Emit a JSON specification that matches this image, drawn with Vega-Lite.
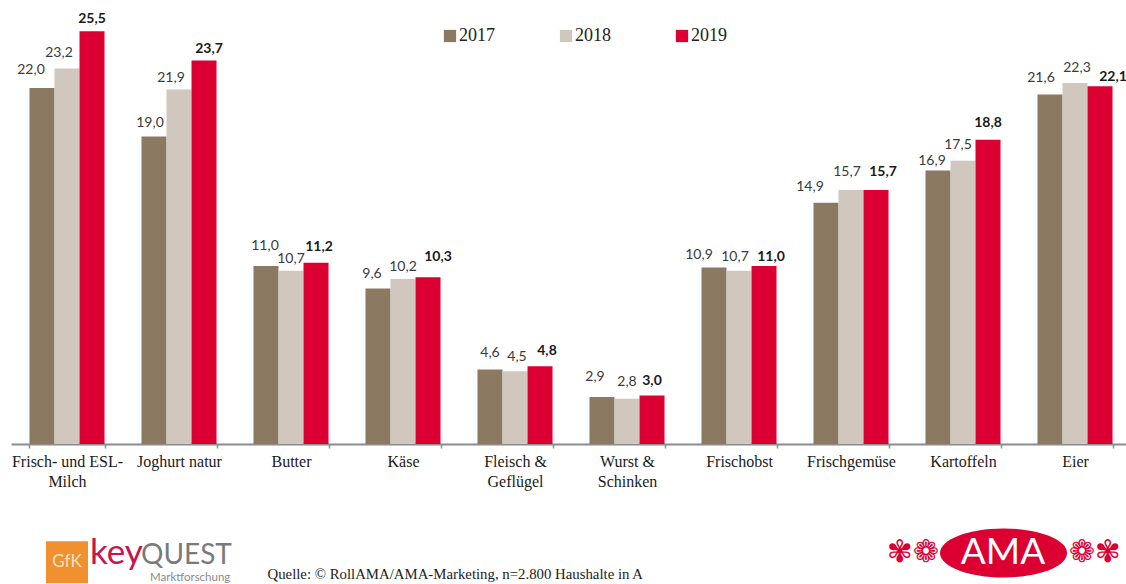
{
"$schema":"https://vega.github.io/schema/vega-lite/v6.json",
"width":1120,"height":437,
"autosize":{"type":"none"},
"padding":{"left":11,"top":7,"right":0,"bottom":140},
"background":"white",
"config":{"view":{"stroke":null},
"text":{"baseline":"middle","font":"Lato","fontSize":14,"color":"#3a3a3a"}},
"datasets":{
"werte":[
{"Kategorie":"Frisch- und ESL-Milch","Jahr":"2017","Wert":22.0,"Text":"22,0"},
{"Kategorie":"Frisch- und ESL-Milch","Jahr":"2018","Wert":23.2,"Text":"23,2"},
{"Kategorie":"Frisch- und ESL-Milch","Jahr":"2019","Wert":25.5,"Text":"25,5"},
{"Kategorie":"Joghurt natur","Jahr":"2017","Wert":19.0,"Text":"19,0"},
{"Kategorie":"Joghurt natur","Jahr":"2018","Wert":21.9,"Text":"21,9"},
{"Kategorie":"Joghurt natur","Jahr":"2019","Wert":23.7,"Text":"23,7"},
{"Kategorie":"Butter","Jahr":"2017","Wert":11.0,"Text":"11,0"},
{"Kategorie":"Butter","Jahr":"2018","Wert":10.7,"Text":"10,7"},
{"Kategorie":"Butter","Jahr":"2019","Wert":11.2,"Text":"11,2"},
{"Kategorie":"Käse","Jahr":"2017","Wert":9.6,"Text":"9,6"},
{"Kategorie":"Käse","Jahr":"2018","Wert":10.2,"Text":"10,2"},
{"Kategorie":"Käse","Jahr":"2019","Wert":10.3,"Text":"10,3"},
{"Kategorie":"Fleisch & Geflügel","Jahr":"2017","Wert":4.6,"Text":"4,6"},
{"Kategorie":"Fleisch & Geflügel","Jahr":"2018","Wert":4.5,"Text":"4,5"},
{"Kategorie":"Fleisch & Geflügel","Jahr":"2019","Wert":4.8,"Text":"4,8"},
{"Kategorie":"Wurst & Schinken","Jahr":"2017","Wert":2.9,"Text":"2,9"},
{"Kategorie":"Wurst & Schinken","Jahr":"2018","Wert":2.8,"Text":"2,8"},
{"Kategorie":"Wurst & Schinken","Jahr":"2019","Wert":3.0,"Text":"3,0"},
{"Kategorie":"Frischobst","Jahr":"2017","Wert":10.9,"Text":"10,9"},
{"Kategorie":"Frischobst","Jahr":"2018","Wert":10.7,"Text":"10,7"},
{"Kategorie":"Frischobst","Jahr":"2019","Wert":11.0,"Text":"11,0"},
{"Kategorie":"Frischgemüse","Jahr":"2017","Wert":14.9,"Text":"14,9"},
{"Kategorie":"Frischgemüse","Jahr":"2018","Wert":15.7,"Text":"15,7"},
{"Kategorie":"Frischgemüse","Jahr":"2019","Wert":15.7,"Text":"15,7"},
{"Kategorie":"Kartoffeln","Jahr":"2017","Wert":16.9,"Text":"16,9"},
{"Kategorie":"Kartoffeln","Jahr":"2018","Wert":17.5,"Text":"17,5"},
{"Kategorie":"Kartoffeln","Jahr":"2019","Wert":18.8,"Text":"18,8"},
{"Kategorie":"Eier","Jahr":"2017","Wert":21.6,"Text":"21,6"},
{"Kategorie":"Eier","Jahr":"2018","Wert":22.3,"Text":"22,3"},
{"Kategorie":"Eier","Jahr":"2019","Wert":22.1,"Text":"22,1"}
]},
"data":{"name":"werte"},
"encoding":{
"x":{"field":"Kategorie","type":"nominal","sort":null,
"scale":{"domain":["Frisch- und ESL-Milch","Joghurt natur","Butter","Käse","Fleisch & Geflügel","Wurst & Schinken","Frischobst","Frischgemüse","Kartoffeln","Eier"],"paddingInner":0.33,"paddingOuter":0.165},
"axis":{"title":"Quelle: © RollAMA/AMA-Marketing, n=2.800 Haushalte in A","titleFont":"Liberation Serif","titleFontSize":14.8,"titleFontWeight":"normal","titleColor":"#222222","titleAnchor":"start","titleAlign":"left","titleX":256,"titleY":122,
"labelAngle":0,"labelFont":"Liberation Serif","labelFontSize":16,"labelColor":"#1a1a1a","labelPadding":5,"labelLineHeight":20,"labelLimit":0,"labelOverlap":false,"labelBaseline":"top",
"labelExpr":"datum.value=='Frisch- und ESL-Milch'?['Frisch- und ESL-','Milch']:datum.value=='Fleisch & Geflügel'?['Fleisch &','Geflügel']:datum.value=='Wurst & Schinken'?['Wurst &','Schinken']:datum.value",
"domainColor":"#8c8c8c","domainWidth":2,"tickColor":"#8c8c8c","tickWidth":1.5,"tickSize":4,"tickBand":"extent"}},
"y":{"field":"Wert","type":"quantitative","scale":{"domain":[0,27],"nice":false},"axis":null},
"text":{"field":"Text"}
},
"layer":[
{"mark":{"type":"bar"},
"encoding":{"xOffset":{"field":"Jahr","type":"nominal"},"text":{"value":""},
"color":{"field":"Jahr","type":"nominal","title":null,
"scale":{"domain":["2017","2018","2019"],"range":["#8B7962","#D0C8BE","#DC0032"]},
"legend":{"orient":"none","legendX":430,"legendY":20,"direction":"horizontal","symbolType":"square","symbolSize":150,"symbolStrokeWidth":0,"labelFont":"Liberation Serif","labelFontSize":18,"labelColor":"#222222","columnPadding":62,"labelOffset":0,"padding":0}}}},
{"transform":[{"filter":"datum.Kategorie=='Frisch- und ESL-Milch'&&datum.Jahr=='2017'"}],"mark":{"type":"text","dx":-36,"dy":-18}},
{"transform":[{"filter":"datum.Kategorie=='Frisch- und ESL-Milch'&&datum.Jahr=='2018'"}],"mark":{"type":"text","dx":-8,"dy":-16}},
{"transform":[{"filter":"datum.Kategorie=='Frisch- und ESL-Milch'&&datum.Jahr=='2019'"}],"mark":{"type":"text","dx":25,"dy":-12,"fontWeight":"bold","color":"#1a1a1a"}},
{"transform":[{"filter":"datum.Kategorie=='Joghurt natur'&&datum.Jahr=='2017'"}],"mark":{"type":"text","dx":-29,"dy":-13}},
{"transform":[{"filter":"datum.Kategorie=='Joghurt natur'&&datum.Jahr=='2018'"}],"mark":{"type":"text","dx":-8,"dy":-12}},
{"transform":[{"filter":"datum.Kategorie=='Joghurt natur'&&datum.Jahr=='2019'"}],"mark":{"type":"text","dx":30,"dy":-11,"fontWeight":"bold","color":"#1a1a1a"}},
{"transform":[{"filter":"datum.Kategorie=='Butter'&&datum.Jahr=='2017'"}],"mark":{"type":"text","dx":-26,"dy":-20}},
{"transform":[{"filter":"datum.Kategorie=='Butter'&&datum.Jahr=='2018'"}],"mark":{"type":"text","dx":0,"dy":-12}},
{"transform":[{"filter":"datum.Kategorie=='Butter'&&datum.Jahr=='2019'"}],"mark":{"type":"text","dx":28,"dy":-16,"fontWeight":"bold","color":"#1a1a1a"}},
{"transform":[{"filter":"datum.Kategorie=='Käse'&&datum.Jahr=='2017'"}],"mark":{"type":"text","dx":-31,"dy":-15}},
{"transform":[{"filter":"datum.Kategorie=='Käse'&&datum.Jahr=='2018'"}],"mark":{"type":"text","dx":0,"dy":-12}},
{"transform":[{"filter":"datum.Kategorie=='Käse'&&datum.Jahr=='2019'"}],"mark":{"type":"text","dx":35,"dy":-20,"fontWeight":"bold","color":"#1a1a1a"}},
{"transform":[{"filter":"datum.Kategorie=='Fleisch & Geflügel'&&datum.Jahr=='2017'"}],"mark":{"type":"text","dx":-25,"dy":-17}},
{"transform":[{"filter":"datum.Kategorie=='Fleisch & Geflügel'&&datum.Jahr=='2018'"}],"mark":{"type":"text","dx":2,"dy":-14}},
{"transform":[{"filter":"datum.Kategorie=='Fleisch & Geflügel'&&datum.Jahr=='2019'"}],"mark":{"type":"text","dx":32,"dy":-15,"fontWeight":"bold","color":"#1a1a1a"}},
{"transform":[{"filter":"datum.Kategorie=='Wurst & Schinken'&&datum.Jahr=='2017'"}],"mark":{"type":"text","dx":-32,"dy":-20}},
{"transform":[{"filter":"datum.Kategorie=='Wurst & Schinken'&&datum.Jahr=='2018'"}],"mark":{"type":"text","dx":0,"dy":-17}},
{"transform":[{"filter":"datum.Kategorie=='Wurst & Schinken'&&datum.Jahr=='2019'"}],"mark":{"type":"text","dx":25,"dy":-14,"fontWeight":"bold","color":"#1a1a1a"}},
{"transform":[{"filter":"datum.Kategorie=='Frischobst'&&datum.Jahr=='2017'"}],"mark":{"type":"text","dx":-40,"dy":-13}},
{"transform":[{"filter":"datum.Kategorie=='Frischobst'&&datum.Jahr=='2018'"}],"mark":{"type":"text","dx":-4,"dy":-14}},
{"transform":[{"filter":"datum.Kategorie=='Frischobst'&&datum.Jahr=='2019'"}],"mark":{"type":"text","dx":32,"dy":-9,"fontWeight":"bold","color":"#1a1a1a"}},
{"transform":[{"filter":"datum.Kategorie=='Frischgemüse'&&datum.Jahr=='2017'"}],"mark":{"type":"text","dx":-41,"dy":-16}},
{"transform":[{"filter":"datum.Kategorie=='Frischgemüse'&&datum.Jahr=='2018'"}],"mark":{"type":"text","dx":-4,"dy":-18}},
{"transform":[{"filter":"datum.Kategorie=='Frischgemüse'&&datum.Jahr=='2019'"}],"mark":{"type":"text","dx":32,"dy":-18,"fontWeight":"bold","color":"#1a1a1a"}},
{"transform":[{"filter":"datum.Kategorie=='Kartoffeln'&&datum.Jahr=='2017'"}],"mark":{"type":"text","dx":-31,"dy":-9}},
{"transform":[{"filter":"datum.Kategorie=='Kartoffeln'&&datum.Jahr=='2018'"}],"mark":{"type":"text","dx":-5,"dy":-16}},
{"transform":[{"filter":"datum.Kategorie=='Kartoffeln'&&datum.Jahr=='2019'"}],"mark":{"type":"text","dx":25,"dy":-17,"fontWeight":"bold","color":"#1a1a1a"}},
{"transform":[{"filter":"datum.Kategorie=='Eier'&&datum.Jahr=='2017'"}],"mark":{"type":"text","dx":-34,"dy":-16}},
{"transform":[{"filter":"datum.Kategorie=='Eier'&&datum.Jahr=='2018'"}],"mark":{"type":"text","dx":2,"dy":-15}},
{"transform":[{"filter":"datum.Kategorie=='Eier'&&datum.Jahr=='2019'"}],"mark":{"type":"text","dx":38,"dy":-9,"fontWeight":"bold","color":"#1a1a1a"}},

{"data":{"values":[{"Kategorie":"Frisch- und ESL-Milch","Wert":-7.3}]},
 "mark":{"type":"point","shape":"square","filled":true,"size":1764,"color":"#F0902F","opacity":1},"encoding":{"text":{"value":""}}},
{"data":{"values":[{"Kategorie":"Frisch- und ESL-Milch","Wert":-7.3,"Text":"GfK"}]},
 "mark":{"type":"text","font":"Lato","fontSize":17,"color":"#FBE3C8"}},
{"data":{"values":[{"Kategorie":"Frisch- und ESL-Milch","Wert":-7.4,"Text":"key"}]},
 "mark":{"type":"text","align":"left","baseline":"alphabetic","dx":23,"font":"Lato","fontSize":35,"color":"#C8144B"}},
{"data":{"values":[{"Kategorie":"Frisch- und ESL-Milch","Wert":-7.4,"Text":"QUEST"}]},
 "mark":{"type":"text","align":"left","baseline":"alphabetic","dx":74,"font":"Lato","fontSize":28,"color":"#7a7a7a"}},
{"data":{"values":[{"Kategorie":"Frisch- und ESL-Milch","Wert":-8.45,"Text":"Marktforschung"}]},
 "mark":{"type":"text","align":"left","baseline":"alphabetic","dx":83,"font":"Lato","fontSize":11.5,"color":"#8a8a8a"}},

{"data":{"values":[{"Kategorie":"Kartoffeln","Wert":-6.73}]},
 "mark":{"type":"point","filled":true,"size":16129,"color":"#DC0032","opacity":1,"shape":"M-0.362,0A1,0.386,0,1,1,1.638,0A1,0.386,0,1,1,-0.362,0Z"},"encoding":{"text":{"value":""}}},
{"data":{"values":[{"Kategorie":"Kartoffeln","Wert":-6.73,"Text":"AMA"}]},
 "mark":{"type":"text","dx":40,"font":"Lato","fontSize":37,"color":"white"}},
{"data":{"values":[{"Kategorie":"Kartoffeln","Wert":-6.73,"Text":"✾❁"}]},
 "mark":{"type":"text","dx":-50,"font":"DejaVu Sans","fontSize":31,"color":"#DC0032"}},
{"data":{"values":[{"Kategorie":"Eier","Wert":-6.73,"Text":"❁✾"}]},
 "mark":{"type":"text","dx":20,"font":"DejaVu Sans","fontSize":31,"color":"#DC0032"}}
]
}
